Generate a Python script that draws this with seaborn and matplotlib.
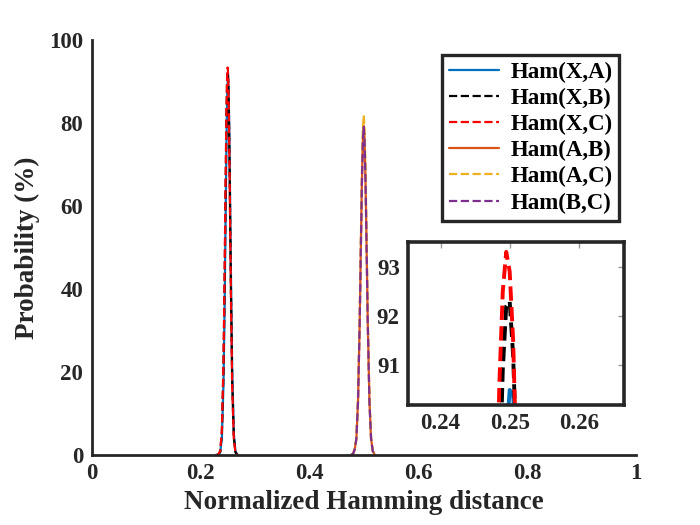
import matplotlib
matplotlib.use("Agg")
import matplotlib.pyplot as plt
import seaborn as sns
from matplotlib.ticker import FormatStrFormatter

# distances around 0.25 (X vs A/B/C)
x_low = [0.228, 0.232, 0.236, 0.239, 0.242, 0.244, 0.246, 0.2475, 0.2485, 0.2490,
         0.2495, 0.2500, 0.2505, 0.2510, 0.2520, 0.2535, 0.2555, 0.258, 0.261,
         0.264, 0.268]
ham_xa = [0, 0.03, 0.62, 4.1, 17.2, 35.1, 58.6, 75.7, 84.4, 87.4,
          89.5, 90.5, 90.4, 89.2, 83.6, 69.2, 45.3, 20.2, 5.1, 0.82, 0]
ham_xb = [0, 0.04, 0.84, 5.2, 20.6, 40.2, 64.6, 81.0, 88.5, 90.9,
          92.2, 92.3, 91.2, 89.1, 81.9, 65.8, 41.4, 17.5, 4.2, 0.64, 0]
ham_xc = [0, 0.04, 0.97, 5.8, 22.4, 43.0, 67.7, 83.7, 90.6, 92.5,
          93.3, 92.9, 91.5, 88.9, 80.9, 64.1, 39.5, 16.3, 3.8, 0.56, 0]

# distances around 0.5 (between A, B, C)
x_high = [0.476, 0.480, 0.483, 0.486, 0.489, 0.492, 0.494, 0.496, 0.498, 0.4995,
          0.501, 0.503, 0.505, 0.507, 0.510, 0.513, 0.516, 0.520]
ham_ab = [0, 0.3, 1.4, 3.9, 12.9, 31.3, 48.1, 64.8, 76.4, 79.3,
          76.4, 64.8, 48.1, 31.3, 12.9, 3.9, 1.0, 0]
ham_ac = [0, 0.3, 1.5, 4.0, 13.3, 32.3, 49.6, 66.8, 78.8, 81.8,
          78.8, 66.8, 49.6, 32.3, 13.3, 4.0, 1.0, 0]
ham_bc = [0, 0.3, 1.4, 3.9, 12.8, 31.2, 47.9, 64.5, 76.1, 79.0,
          76.1, 64.5, 47.9, 31.2, 12.8, 3.9, 1.0, 0]

series = [
    ("Ham(X,A)", x_low, ham_xa, "#0072BD", "-"),
    ("Ham(X,B)", x_low, ham_xb, "black", "--"),
    ("Ham(X,C)", x_low, ham_xc, "red", "--"),
    ("Ham(A,B)", x_high, ham_ab, "#D95319", "-"),
    ("Ham(A,C)", x_high, ham_ac, "#EDB120", "--"),
    ("Ham(B,C)", x_high, ham_bc, "#7E2F8E", "--"),
]

sns.set_theme(style="white")
plt.rcParams['font.family'] = ['Liberation Serif', 'DejaVu Serif']
plt.rcParams['font.weight'] = 'bold'
plt.rcParams['axes.labelweight'] = 'bold'
axis_col = "#262626"

fig = plt.figure(figsize=(7, 5.25), dpi=100)
ax = fig.add_axes([0.131, 0.1333, 0.778, 0.791])

for label, xs, ys, col, ls in series:
    sns.lineplot(x=xs, y=ys, ax=ax, color=col, linestyle=ls, linewidth=1.6,
                 label=label, sort=False)

ax.set_xlim(0, 1)
ax.set_ylim(0, 100)
ax.set_xticks([0, 0.2, 0.4, 0.6, 0.8, 1])
ax.set_yticks([0, 20, 40, 60, 80, 100])
ax.xaxis.set_major_formatter(FormatStrFormatter('%g'))
ax.tick_params(direction='in', length=5, width=1.2, colors=axis_col,
               labelsize=16.5, pad=6)
for side in ["top", "right"]:
    ax.spines[side].set_visible(False)
for side in ["left", "bottom"]:
    ax.spines[side].set_color(axis_col)
    ax.spines[side].set_linewidth(2.0)
ax.set_xlabel("Normalized Hamming distance", fontsize=19.5, color=axis_col, labelpad=4)
ax.set_ylabel("Probability (%)", fontsize=19.5, color=axis_col, labelpad=7)

leg = ax.legend(loc="upper right", bbox_to_anchor=(0.969, 0.964), borderaxespad=0,
                fontsize=16.5, frameon=True, fancybox=False, framealpha=1,
                handlelength=2.2, handletextpad=0.5, labelspacing=0.22,
                borderpad=0.3)
leg.get_frame().set_edgecolor(axis_col)
leg.get_frame().set_linewidth(2.4)
for t in leg.get_texts():
    t.set_color("black")

# zoomed inset around the peak at 0.25
ins = fig.add_axes([0.583, 0.229, 0.308, 0.31])
for label, xs, ys, col, ls in series[:3]:
    sns.lineplot(x=xs, y=ys, ax=ins, color=col, linestyle=ls, linewidth=2.8,
                 sort=False, legend=False)
ins.set_xlim(0.2353, 0.2665)
ins.set_ylim(90.2, 93.5)
ins.set_xticks([0.24, 0.25, 0.26])
ins.set_yticks([91, 92, 93])
ins.tick_params(direction='in', length=4, width=1, colors="#999999",
                labelcolor=axis_col, labelsize=16.5, top=True, right=True, pad=6)
for side in ins.spines.values():
    side.set_color(axis_col)
    side.set_linewidth(2.6)
    side.set_visible(True)

fig.savefig("out.png", dpi=100)
plt.close(fig)
